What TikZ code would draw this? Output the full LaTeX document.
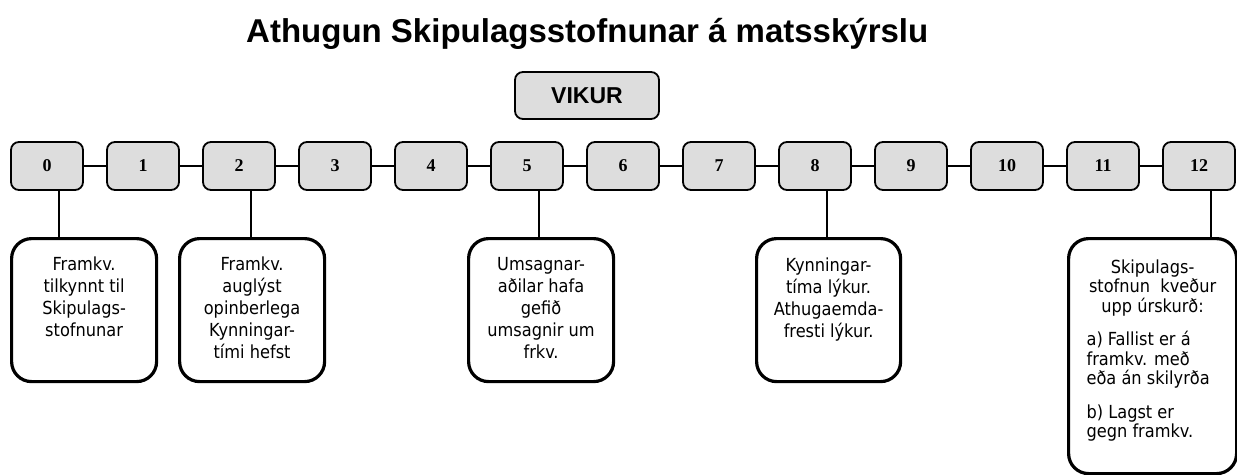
\documentclass[tikz,border=0pt]{standalone}
\usepackage{fontspec}
\setmainfont{Liberation Sans}
\newfontfamily\boxfont{DejaVu Sans Condensed}
\newfontfamily\numfont{Liberation Serif}
\definecolor{wkgray}{RGB}{221,221,221}
\begin{document}
\begin{tikzpicture}[x=1pt,y=-1pt,
  week/.style={draw, line width=1.8pt, fill=wkgray, rounded corners=8pt, minimum width=72pt, minimum height=48pt, inner sep=0pt, font=\numfont\bfseries\fontsize{18}{20}\selectfont},
  event/.style={draw, line width=3.2pt, rounded corners=20pt, inner sep=0pt, anchor=north west, font=\boxfont\fontsize{18}{22}\selectfont},
  conn/.style={line width=1.7pt}]
\useasboundingbox (0,0) rectangle (1237,474);
\node[anchor=base west, inner sep=0pt, font=\bfseries\fontsize{33}{38}\selectfont] (title) at (246,42) {Athugun Skipulagsstofnunar á matsskýrslu};
\node[week, minimum width=144pt, minimum height=47pt, font=\bfseries\fontsize{23}{26}\selectfont] (vikur) at (587,95.5) {VIKUR};
\foreach \i in {0,...,12} \node[week] (w\i) at (47+96*\i,166) {\i};
\foreach \i [count=\j from 1] in {0,...,11} \draw[conn] (w\i) -- (w\j);
\node[event] (a) at (10,237) {\parbox[c][143pt][t]{145pt}{\vspace*{18pt}\centering Framkv.\\tilkynnt til\\Skipulags-\\stofnunar\par}};
\node[event] (b) at (178,237) {\parbox[c][143pt][t]{145pt}{\vspace*{18pt}\centering Framkv.\\auglýst\\opinberlega\\Kynningar-\\tími hefst\par}};
\node[event] (c) at (467,237) {\parbox[c][143pt][t]{145pt}{\vspace*{19pt}\centering Umsagnar-\\aðilar hafa\\gefið\\umsagnir um\\frkv.\par}};
\node[event] (d) at (755,237) {\parbox[c][143pt][t]{144pt}{\vspace*{19pt}\centering Kynningar-\\tíma lýkur.\\Athugaemda-\\fresti lýkur.\par}};
\node[event, font=\boxfont\fontsize{18}{19.5}\selectfont] (e) at (1067,237) {\parbox[c][235pt][t]{168pt}{\vspace*{21pt}\centering Skipulags-\\stofnun\ \ kveður\\upp úrskurð:\par\vspace{14pt}\raggedright\leftskip=18pt a) Fallist er á\\framkv. með\\eða án skilyrða\par\vspace{14pt}b) Lagst er\\gegn framkv.\par}};
\draw[conn] ([xshift=12pt]w0.south) -- ([xshift=12pt]w0.south |- a.north);
\draw[conn] ([xshift=12pt]w2.south) -- ([xshift=12pt]w2.south |- b.north);
\draw[conn] ([xshift=12pt]w5.south) -- ([xshift=12pt]w5.south |- c.north);
\draw[conn] ([xshift=12pt]w8.south) -- ([xshift=12pt]w8.south |- d.north);
\draw[conn] ([xshift=12pt]w12.south) -- ([xshift=12pt]w12.south |- e.north);
\end{tikzpicture}
\end{document}
